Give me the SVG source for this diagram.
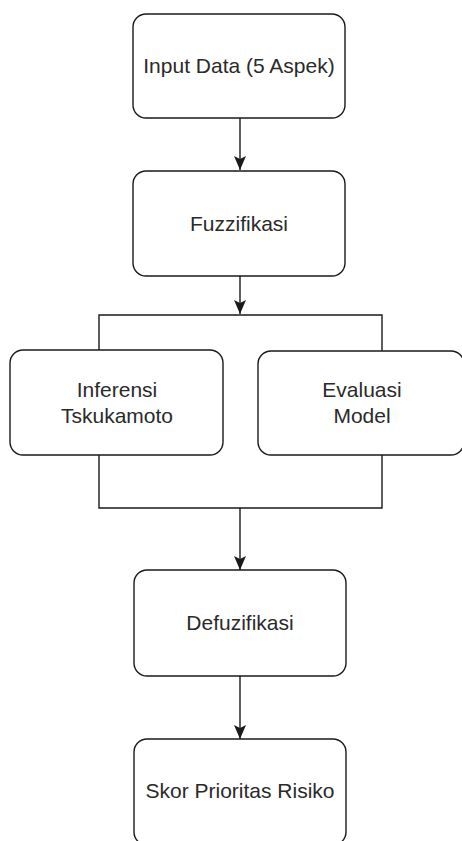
<svg xmlns="http://www.w3.org/2000/svg" width="462" height="841" viewBox="0 0 462 841">
<style>
.box{fill:#fff;stroke:#1a1a1a;stroke-width:1.4}
.lbl{font-family:"Liberation Sans",Arial,sans-serif;font-size:21px;fill:#2a2a2a;text-anchor:middle}
.conn{fill:none;stroke:#1a1a1a;stroke-width:1.4}
</style>
<defs>
<marker id="ah" markerUnits="userSpaceOnUse" viewBox="0 0 14 12" refX="14" refY="6" markerWidth="14" markerHeight="12" orient="auto">
<path d="M0,0 L14,6 L0,12 L3,6 Z" fill="#1a1a1a"/>
</marker>
</defs>
<rect width="462" height="841" fill="#fff"/>
<g id="connectors">
<line class="conn" x1="240" y1="118" x2="240" y2="170" marker-end="url(#ah)"/>
<line class="conn" x1="240" y1="276" x2="240" y2="314" marker-end="url(#ah)"/>
<polyline class="conn" points="99,350 99,315 382,315 382,351"/>
<polyline class="conn" points="99,455 99,508 382,508 382,455"/>
<line class="conn" x1="240" y1="508" x2="240" y2="570" marker-end="url(#ah)"/>
<line class="conn" x1="240" y1="676" x2="240" y2="739" marker-end="url(#ah)"/>
</g>
<g id="input">
<rect class="box" x="133" y="14" width="212" height="104" rx="13"/>
<text class="lbl" x="239" y="73">Input Data (5 Aspek)</text>
</g>
<g id="fuzzifikasi">
<rect class="box" x="133" y="171" width="212" height="105" rx="13"/>
<text class="lbl" x="239" y="231">Fuzzifikasi</text>
</g>
<g id="inferensi">
<rect class="box" x="10" y="350" width="213" height="105" rx="13"/>
<text class="lbl" x="117" y="397">Inferensi</text>
<text class="lbl" x="117" y="423">Tskukamoto</text>
</g>
<g id="evaluasi">
<rect class="box" x="258" y="351" width="206" height="104" rx="13"/>
<text class="lbl" x="362" y="397">Evaluasi</text>
<text class="lbl" x="362" y="423">Model</text>
</g>
<g id="defuzifikasi">
<rect class="box" x="134" y="570" width="212" height="106" rx="13"/>
<text class="lbl" x="240" y="630">Defuzifikasi</text>
</g>
<g id="skor">
<rect class="box" x="134" y="739" width="212" height="106" rx="13"/>
<text class="lbl" x="240" y="798">Skor Prioritas Risiko</text>
</g>
</svg>
